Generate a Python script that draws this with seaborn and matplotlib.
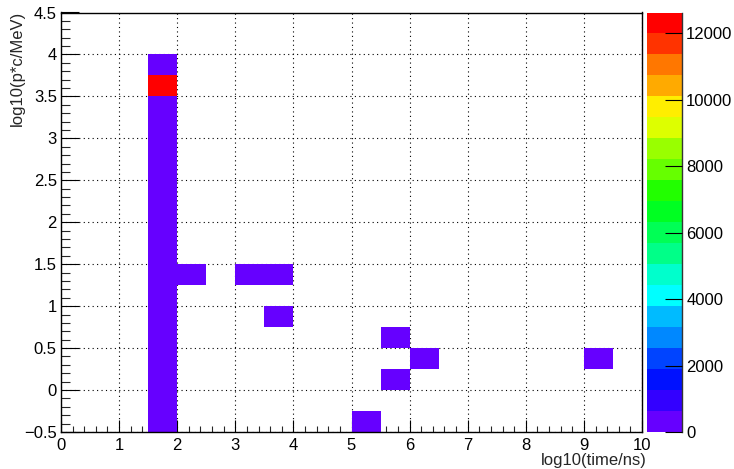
import numpy as np
import pandas as pd
import matplotlib
matplotlib.use("Agg")
import matplotlib.pyplot as plt
import seaborn as sns
from matplotlib.colors import ListedColormap
from matplotlib.ticker import MultipleLocator

# Bin centres (log10 time in ns, log10 momentum in MeV/c) and entries per bin
log_time = [1.75] * 18 + [2.25, 3.25, 3.75, 3.75, 5.75, 6.25, 5.75, 5.25, 9.25]
log_p = [-0.375, -0.125, 0.125, 0.375, 0.625, 0.875, 1.125, 1.375, 1.625,
         1.875, 2.125, 2.375, 2.625, 2.875, 3.125, 3.375, 3.625, 3.875,
         1.375, 1.375, 1.375, 0.875, 0.625, 0.375, 0.125, -0.375, 0.375]
counts = [35, 48, 62, 80, 96, 118, 140, 165, 190, 215, 240, 262, 285, 300,
          310, 295, 12632, 180,
          3, 2, 2, 1, 1, 1, 1, 1, 1]

x_title = "log10(time/ns)"
y_title = "log10(p*c/MeV)"
z_ticks = [0, 2000, 4000, 6000, 8000, 10000, 12000]
y_tick_labels = ["\u22120.5", "0", "0.5", "1", "1.5", "2", "2.5", "3", "3.5", "4", "4.5"]

# 20-level rainbow palette
palette = ["#6600FF", "#3300FF", "#0011FF", "#0044FF", "#0088FF", "#00BBFF",
           "#00FFFF", "#00FFCC", "#00FF88", "#00FF55", "#00FF22", "#22FF00",
           "#66FF00", "#99FF00", "#DDFF00", "#FFEE00", "#FFAA00", "#FF7700",
           "#FF3300", "#FF0000"]

sns.set_style("ticks")
plt.rcParams["font.family"] = ["Liberation Sans", "DejaVu Sans"]
plt.rcParams["axes.unicode_minus"] = True

df = pd.DataFrame({"log_time": log_time, "log_p": log_p, "counts": counts})

W, H = 734, 469
fig = plt.figure(figsize=(W / 100, H / 100), dpi=100)
ax = fig.add_axes([61 / W, 37 / H, 581 / W, 419.5 / H])
cax = fig.add_axes([647 / W, 37 / H, 35 / W, 419.5 / H])

sns.histplot(data=df, x="log_time", y="log_p", weights="counts",
             binwidth=(0.5, 0.25), binrange=((0, 10), (-0.5, 4.5)),
             cmap=ListedColormap(palette), vmin=0, vmax=max(counts),
             cbar=True, cbar_ax=cax, ax=ax)

ax.set_xlim(0, 10)
ax.set_ylim(-0.5, 4.5)
ax.set_axisbelow(True)
ax.grid(True, which="major", linestyle=(0, (1, 3)), color="black", linewidth=0.8)

ax.xaxis.set_major_locator(MultipleLocator(1))
ax.xaxis.set_minor_locator(MultipleLocator(0.2))
ax.set_yticks(np.arange(-0.5, 4.51, 0.5))
ax.set_yticklabels(y_tick_labels)
ax.yaxis.set_minor_locator(MultipleLocator(0.1))

ax.tick_params(axis="x", which="major", direction="in", length=9, width=0.8,
               labelsize=12, pad=4, colors="black", top=False, bottom=True)
ax.tick_params(axis="x", which="minor", direction="in", length=4.5, width=0.8,
               top=False, bottom=True)
ax.tick_params(axis="y", which="major", direction="in", length=13, width=0.8,
               labelsize=12, pad=3, colors="black", left=True, right=False)
ax.tick_params(axis="y", which="minor", direction="in", length=6.5, width=0.8,
               left=True, right=False)
for s in ax.spines.values():
    s.set_visible(True)
    s.set_color("black")
    s.set_linewidth(1.0)
    s.set_zorder(3)

ax.set_xlabel("")
ax.set_ylabel("")
fig.text(647 / W, 1 - 460 / H, x_title, ha="right", va="center", fontsize=12)
fig.text(17 / W, 1 - 11 / H, y_title, ha="center", va="top", rotation=90, fontsize=12)

cbar = ax.collections[0].colorbar
cbar.set_ticks(z_ticks)
cbar.set_ticklabels([str(t) for t in z_ticks])
cbar.outline.set_visible(False)
cax.set_axisbelow(False)
cax.minorticks_off()
cax.spines["right"].set_visible(True)
cax.spines["right"].set_color("#333333")
cax.spines["right"].set_linewidth(1.0)
cax.yaxis.set_ticks_position("right")
cax.tick_params(axis="y", which="major", direction="in", length=12.5, width=0.8,
                labelsize=12, pad=3, colors="black", right=True, left=False)

fig.savefig("out.png", dpi=100)
